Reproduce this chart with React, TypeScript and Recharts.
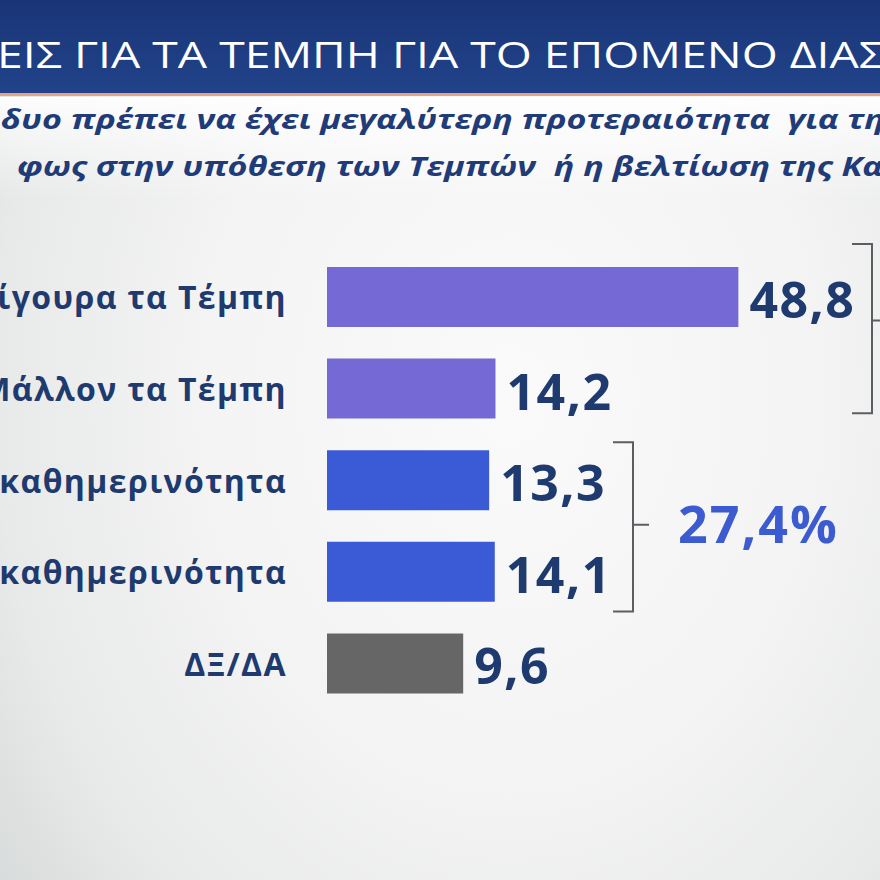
import { BarChart, Bar, XAxis, YAxis, LabelList, Cell } from "recharts";

// survey answers (labels are cut off at the left edge of the frame, as in the broadcast)
const categories = [
  "Σίγουρα τα Τέμπη",
  "Μάλλον τα Τέμπη",
  "Σίγουρα η καθημερινότητα",
  "Μάλλον η καθημερινότητα",
  "ΔΞ/ΔΑ",
];
const values = [48.8, 14.2, 13.3, 14.1, 9.6];
const barColors = ["#7469d5", "#7469d5", "#3b5bd6", "#3b5bd6", "#666666"];
const groupTotal = "27,4%";

const titleText = "ΕΙΣ ΓΙΑ ΤΑ ΤΕΜΠΗ ΓΙΑ ΤΟ ΕΠΟΜΕΝΟ ΔΙΑΣ";
const subtitleLines = [
  "δυο πρέπει να έχει μεγαλύτερη προτεραιότητα  για τη",
  "φως στην υπόθεση των Τεμπών  ή η βελτίωση της Κα",
];

// the graphic gives every bar a minimum stub, so the value axis starts below zero
const BAR_FLOOR = -9.8;
const X_MAX = 60;

const data = categories.map((name, i) => ({ name, value: values[i] }));

const W = 880;
const H = 880;
const PLOT_TOP = 251;
const PLOT_BOTTOM = 709;
const AXIS_W = 327;
const BAND = (PLOT_BOTTOM - PLOT_TOP) / categories.length;

const NAVY = "#1e3a6e";
const FONT = "'Open Sans', 'Noto Sans', sans-serif";

const fmt = (v: number) => v.toFixed(1).replace(".", ",");

function CategoryTick(props: any) {
  const { x, y, payload } = props;
  return (
    <text
      x={x}
      y={y}
      textAnchor="end"
      dominantBaseline="central"
      fill={NAVY}
      fontFamily={FONT}
      fontWeight={700}
      fontSize={32}
      letterSpacing={1.4}
    >
      {payload.value}
    </text>
  );
}

function ValueLabel(props: any) {
  const { x, y, width, height, index } = props;
  return (
    <text
      x={Number(x) + Number(width) + 11}
      y={Number(y) + Number(height) / 2 + 2}
      dominantBaseline="central"
      fill={NAVY}
      fontFamily={FONT}
      fontWeight={700}
      fontSize={50}
      letterSpacing={1.5}
    >
      {fmt(values[index])}
    </text>
  );
}

function Bracket({ x, top, bottom, tipY, tick, tip }: any) {
  return (
    <path
      d={`M${x - tick},${top} H${x} V${bottom} H${x - tick} M${x},${tipY} h${tip}`}
      fill="none"
      stroke="#5b5e63"
      strokeWidth={2}
    />
  );
}

export default function App() {
  return (
    <div
      style={{
        position: "absolute",
        left: 0,
        top: 0,
        width: W,
        height: H,
        overflow: "hidden",
        background:
          "radial-gradient(ellipse 75% 95% at 58% 45%, #fafafa 0%, #f4f4f4 45%, #e8e9e9 78%, #d6d9d9 100%)",
      }}
    >
      <svg width={W} height={200} style={{ position: "absolute", left: 0, top: 0 }}>
        <defs>
          <linearGradient id="bar" x1="0" y1="0" x2="0" y2="1">
            <stop offset="0" stopColor="#1a3577" />
            <stop offset="1" stopColor="#21438a" />
          </linearGradient>
          <linearGradient id="fade" x1="0" y1="0" x2="0" y2="1">
            <stop offset="0" stopColor="#ffffff" stopOpacity={0.9} />
            <stop offset="1" stopColor="#ffffff" stopOpacity={0} />
          </linearGradient>
        </defs>
        <rect x={0} y={97} width={W} height={103} fill="url(#fade)" />
        <rect x={0} y={0} width={W} height={93} fill="url(#bar)" />
        <rect x={0} y={93} width={W} height={3} fill="#e6a387" />
        <text
          x={-3}
          y={68}
          textLength={888}
          lengthAdjust="spacingAndGlyphs"
          fill="#ffffff"
          fontFamily={FONT}
          fontWeight={400}
          fontSize={36}
        >
          {titleText}
        </text>
        {subtitleLines.map((line, i) => (
          <text
            key={i}
            x={i === 0 ? 1 : 17}
            y={i === 0 ? 129 : 176}
            textLength={i === 0 ? 884 : 866}
            lengthAdjust="spacingAndGlyphs"
            fill="#1f3b78"
            fontFamily={FONT}
            fontWeight={700}
            fontSize={26}
            style={{ whiteSpace: "pre", fontStyle: "oblique 6deg" }}
          >
            {line}
          </text>
        ))}
      </svg>

      <div style={{ position: "absolute", left: 0, top: 0 }}>
        <BarChart
          width={W}
          height={H}
          data={data}
          layout="vertical"
          margin={{ top: PLOT_TOP, bottom: H - PLOT_BOTTOM, left: 0, right: 63 }}
          barSize={60}
        >
          <XAxis type="number" domain={[BAR_FLOOR, X_MAX]} hide />
          <YAxis
            type="category"
            dataKey="name"
            width={AXIS_W}
            axisLine={false}
            tickLine={false}
            tickSize={0}
            tickMargin={40}
            interval={0}
            tick={<CategoryTick />}
          />
          <Bar dataKey={(d: any) => [BAR_FLOOR, d.value]} isAnimationActive={false}>
            {data.map((d, i) => (
              <Cell key={d.name} fill={barColors[i]} />
            ))}
            <LabelList content={<ValueLabel />} />
          </Bar>
        </BarChart>
      </div>

      <svg width={W} height={H} style={{ position: "absolute", left: 0, top: 0, pointerEvents: "none" }}>
        <Bracket
          x={872}
          top={PLOT_TOP - 7}
          bottom={PLOT_TOP + 2 * BAND - 21}
          tipY={PLOT_TOP + BAND - 22}
          tick={20}
          tip={12}
        />
        <Bracket
          x={633}
          top={PLOT_TOP + 2 * BAND + 8}
          bottom={PLOT_TOP + 4 * BAND - 6}
          tipY={PLOT_TOP + 3 * BAND - 1}
          tick={20}
          tip={16}
        />
        <text
          x={678}
          y={PLOT_TOP + 3 * BAND - 3}
          dominantBaseline="central"
          fill="#3d5bd0"
          fontFamily={FONT}
          fontWeight={700}
          fontSize={52}
          letterSpacing={2}
        >
          {groupTotal}
        </text>
      </svg>
    </div>
  );
}
